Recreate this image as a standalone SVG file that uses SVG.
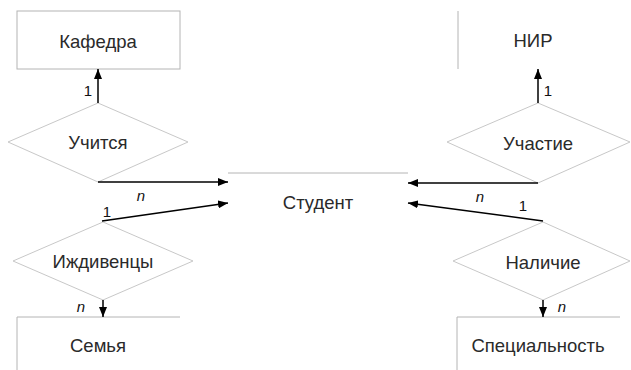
<svg xmlns="http://www.w3.org/2000/svg" width="631" height="370" viewBox="0 0 631 370">
<defs>
<marker id="ah" viewBox="0 0 10 8" refX="10" refY="4" markerWidth="10" markerHeight="8" markerUnits="userSpaceOnUse" orient="auto">
<path d="M0,0 L10,4 L0,8 Z" fill="#000"/>
</marker>
<style>
.box{fill:none;stroke:#b4b4b4;stroke-width:1}
.dia{fill:#fff;stroke:#c8c8c8;stroke-width:1}
.t{font-family:"Liberation Sans",Arial,sans-serif;font-size:18.5px;fill:#2a2a2a;text-anchor:middle;dominant-baseline:central}
.lab{font-family:"Liberation Sans",Arial,sans-serif;font-size:15px;fill:#111;text-anchor:middle;dominant-baseline:central}
.n{font-style:italic}
.c{fill:none;stroke:#000;stroke-width:1.5;marker-end:url(#ah)}
</style>
</defs>
<rect width="631" height="370" fill="#fff"/>
<g id="kafedra"><rect class="box" x="17" y="11" width="163" height="58"/><text class="t" x="98" y="41">Кафедра</text></g>
<g id="nir"><line class="box" x1="458" y1="11" x2="458" y2="69"/><text class="t" x="533" y="40">НИР</text></g>
<g id="student"><line class="box" x1="228" y1="173" x2="408" y2="173"/><text class="t" x="318" y="202">Студент</text></g>
<g id="semya"><path class="box" d="M17,370 V317 H180"/><text class="t" x="98" y="345">Семья</text></g>
<g id="spec"><path class="box" d="M457,370 V317 H620"/><text class="t" x="538" y="345">Специальность</text></g>
<g id="uchitsya"><polygon class="dia" points="98,103 188,142 98,182 8,142"/><text class="t" x="98" y="142">Учится</text></g>
<g id="izhdivency"><polygon class="dia" points="103,222 193,261 103,300 13,261"/><text class="t" x="103" y="261">Иждивенцы</text></g>
<g id="uchastie"><polygon class="dia" points="538,103 630,142 538,183 447,142"/><text class="t" x="538" y="143">Участие</text></g>
<g id="nalichie"><polygon class="dia" points="543,222 630,261 543,300 453,261"/><text class="t" x="543" y="262">Наличие</text></g>
<g id="connectors">
<line class="c" x1="98" y1="103" x2="98" y2="69"/>
<line class="c" x1="98" y1="182" x2="228" y2="182"/>
<line class="c" x1="102" y1="221" x2="228" y2="203"/>
<line class="c" x1="103" y1="300" x2="103" y2="317"/>
<line class="c" x1="538" y1="103" x2="538" y2="69"/>
<line class="c" x1="538" y1="183" x2="408" y2="183"/>
<line class="c" x1="543" y1="221" x2="408" y2="203"/>
<line class="c" x1="543" y1="300" x2="543" y2="317"/>
</g>
<g id="labels">
<text class="lab" x="88" y="90">1</text>
<text class="lab n" x="141" y="195">n</text>
<text class="lab" x="107" y="211">1</text>
<text class="lab n" x="81" y="306">n</text>
<text class="lab" x="548" y="90">1</text>
<text class="lab n" x="480" y="196">n</text>
<text class="lab" x="523" y="205">1</text>
<text class="lab n" x="562" y="306">n</text>
</g>
</svg>
